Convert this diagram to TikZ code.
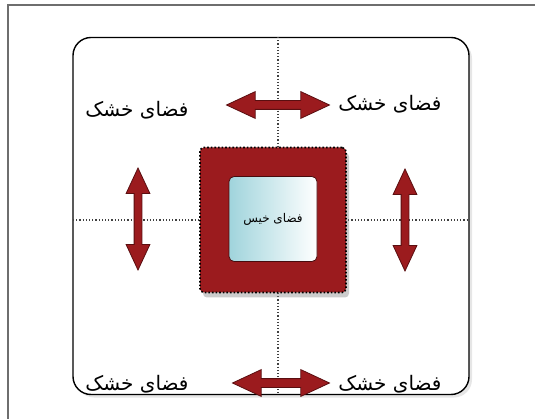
\documentclass[tikz,border=0pt]{standalone}
\usepackage{fontspec}
\usepackage{tikz}
\usetikzlibrary{shapes.arrows,shadows,positioning}
\TeXXeTstate=1
\newfontfamily\arabicfont[Script=Arabic]{DejaVu Sans}
\definecolor{framegrey}{RGB}{110,110,110}
\definecolor{wetred}{RGB}{155,27,30}
\definecolor{wetline}{RGB}{90,14,16}
\definecolor{wetcyan}{RGB}{160,212,220}
\tikzset{
  drylabel/.style={font=\arabicfont\fontsize{20}{23}\selectfont},
  twoway/.style={double arrow, draw=wetline, fill=wetred, line width=0.8pt,
    inner xsep=0pt, inner ysep=4pt, minimum width=0pt, double arrow head extend=9pt,
    double arrow head indent=0pt, double arrow tip angle=50},
  axisline/.style={dotted, line width=1.2pt, black!75}
}

\begin{document}
\begin{tikzpicture}[x=1pt,y=-1pt]
\useasboundingbox (0,0) rectangle (535,419);
\coordinate (frametop) at (535,5);
\coordinate (framecorner) at (8,5);
\coordinate (framebottom) at (8,419);
\draw[framegrey, line width=1.5pt] (frametop) -- (framecorner) -- (framebottom);

\node[draw=black, line width=1.4pt, fill=white, rounded corners=18pt,
  minimum width=396pt, minimum height=357pt,
  drop shadow={opacity=0.2, shadow xshift=3pt, shadow yshift=-3pt}] (dryfield) at (271,216) {};

\coordinate (vtop) at (278,37);
\coordinate (vbottom) at (278,394);
\coordinate (hleft) at (73,220);
\coordinate (hright) at (469,220);
\draw[axisline] (vtop) -- (vbottom);
\draw[axisline] (hleft) -- (hright);

\node[fill=wetred, draw=black, dotted, line width=1.6pt, rounded corners=4pt,
  minimum width=146pt, minimum height=145pt,
  drop shadow={opacity=0.4, shadow xshift=3pt, shadow yshift=-5pt}] (wetring) at (273,220) {};
\node[left color=wetcyan, right color=white, draw=wetline!80!black, line width=0.8pt,
  rounded corners=5pt, minimum width=88pt, minimum height=85pt,
  font=\arabicfont\fontsize{12}{14}\selectfont] (wetcore) at (273,219) {\beginR فضای خیس\endR};

\node[twoway, minimum height=103pt] (arrowtop) at (278,105) {};
\node[twoway, minimum height=97pt] (arrowbottom) at (281,383) {};
\node[twoway, minimum height=102pt, inner ysep=3.5pt, double arrow head extend=8pt, rotate=90] (arrowleft) at (138,219) {};
\node[twoway, minimum height=102pt, inner ysep=3.5pt, double arrow head extend=8pt, rotate=90] (arrowright) at (405,220) {};

\node[drylabel] (drytl) at (137,110) {\beginR فضای خشک\endR};
\node[drylabel] (drytr) at (390,104) {\beginR فضای خشک\endR};
\node[drylabel] (drybl) at (137,384) {\beginR فضای خشک\endR};
\node[drylabel] (drybr) at (390,384) {\beginR فضای خشک\endR};
\end{tikzpicture}
\end{document}
